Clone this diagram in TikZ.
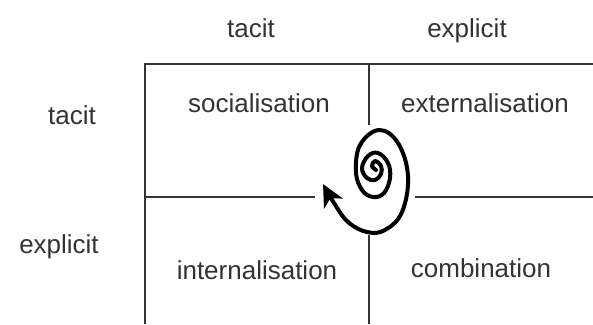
\documentclass[tikz,border=0pt]{standalone}
\usepackage{fontspec}
\setmainfont{Liberation Sans}
\usetikzlibrary{arrows.meta}
\begin{document}
\begin{tikzpicture}[x=1pt,y=-1pt,
  lbl/.style={anchor=base,inner sep=0pt,text=black!80,font=\fontsize{26}{30}\selectfont},
  grid/.style={line width=1.6pt,draw=black!80},
  spiral/.style={line width=4pt,line cap=round,line join=round,-{Stealth[length=22pt,width=21pt,inset=6pt]}}]
\useasboundingbox (0,0) rectangle (593,324);
% headers
\node[lbl] (h1) at (251,37) {tacit};
\node[lbl] (h2) at (467,37) {explicit};
\node[lbl] (r1) at (72,124) {tacit};
\node[lbl] (r2) at (59,253) {explicit};
% cells
\node[lbl] (c1) at (259,112) {socialisation};
\node[lbl] (c2) at (485,112) {externalisation};
\node[lbl] (c3) at (257,279) {internalisation};
\node[lbl] (c4) at (481,277) {combination};
% grid
\coordinate (tl) at (145,64);
\coordinate (tr) at (593,64);
\coordinate (bl) at (145,324);
\draw[grid] (tr) -- (tl) -- (bl);
\draw[grid] (145,197) -- (315,197);
\draw[grid] (415,197) -- (593,197);
\draw[grid] (369,64) -- (369,125);
\draw[grid] (369,235) -- (369,324);
% spiral
\draw[spiral] plot[smooth,tension=0.65] coordinates {
 (376,170) (372,166) (375,161) (381,166) (381,174) (375,180) (367,178)
 (362,168) (368,156) (378,153) (388,163) (390,178) (384,193) (373,197) (362,190)
 (356,172) (360,145) (379,130) (398,143) (408,176) (402,212) (385,230) (367,232)
 (348,222) (334,203) (323,184)};
\end{tikzpicture}
\end{document}
